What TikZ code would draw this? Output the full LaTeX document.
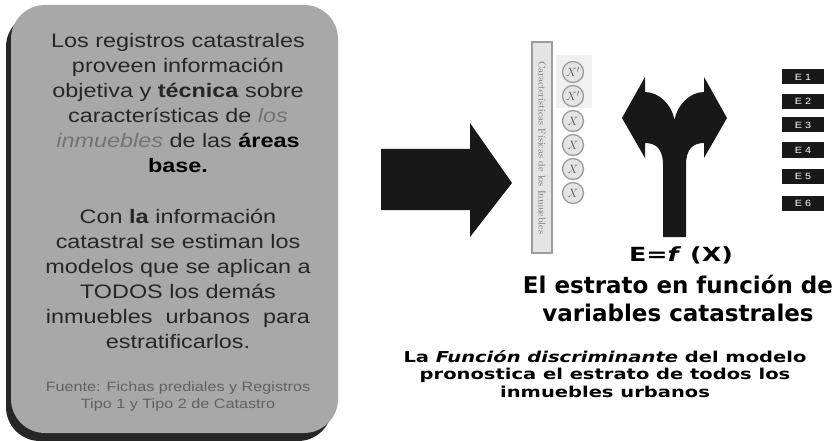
\documentclass[tikz,border=0pt]{standalone}
\usepackage{fontspec}
\usetikzlibrary{positioning}
\newfontfamily\boxfont[FakeStretch=1.2]{Liberation Sans}
\newfontfamily\heavyfont{DejaVu Sans}
\newfontfamily\widefont[FakeStretch=1.3]{DejaVu Sans}
\definecolor{boxgrey}{HTML}{A8A8A8}
\definecolor{shadowgrey}{HTML}{262626}
\definecolor{inkgrey}{HTML}{262626}
\definecolor{panelgrey}{HTML}{E4E4E4}
\definecolor{rulegrey}{HTML}{9C9C9C}
\definecolor{shapeblack}{HTML}{181818}

\begin{document}
\begin{tikzpicture}[x=1pt,y=-1pt,
	varcircle/.style={draw=rulegrey, line width=1.3pt, fill=panelgrey, circle, minimum size=21pt, inner sep=0pt, text=black!65, font=\fontsize{13}{13}\selectfont},
	strbox/.style={fill=shapeblack, minimum width=42pt, minimum height=15pt, inner sep=0pt, text=white, font=\boxfont\fontsize{9}{9}\selectfont}]
			\useasboundingbox (0,0) rectangle (835,441);
			\fill[white] (0,0) rectangle (835,441);
			% grey card with its shadow
			\fill[shadowgrey, rounded corners=34] (6,13) rectangle (332,441);
			\fill[boxgrey, rounded corners=34] (11,5) rectangle (338,433);
			\node[anchor=north, inner sep=0pt, align=center, text=inkgrey, font=\boxfont\fontsize{19.5}{25}\selectfont] (intro) at (178,33)
				{Los registros catastrales\\ proveen información\\ objetiva y \textbf{técnica} sobre\\ características de \textcolor{black!55}{\itshape los}\\ \textcolor{black!55}{\itshape inmuebles} de las \textbf{\color{black}áreas}\\ \textbf{\color{black}base.}};
			\node[below=36pt of intro, inner sep=0pt, align=center, text=inkgrey, font=\boxfont\fontsize{19.5}{25}\selectfont] (method)
				{Con \textbf{la} información\\ catastral se estiman los\\ modelos que se aplican a\\ TODOS los demás\\ inmuebles \ urbanos \ para\\ estratificarlos.};
			\node[below=33pt of method, inner sep=0pt, align=center, text=black!62, font=\boxfont\fontsize{13.5}{17}\selectfont] (source)
				{Fuente: Fichas prediales y Registros\\ Tipo 1 y Tipo 2 de Catastro};
			% big arrow
			\fill[shapeblack] (381,149) -- (470,149) -- (470,123) -- (512,183) -- (470,237) -- (470,210) -- (381,210) -- cycle;
			% panel of variables
			\node[draw=rulegrey, line width=1.5pt, fill=panelgrey, minimum width=20pt, minimum height=211pt, inner sep=0pt] (panel) at (542,147.5) {};
			\node[rotate=-90, text=black!55, font=\fontsize{10}{10}\selectfont] (panelname) at (panel.center) {Características Físicas de los Inmuebles};
			\fill[black!6] (556,55) rectangle (592,108);
			\foreach \y/\t [count=\i] in {72/{X'},96/{X'},121/X,145/X,169/X,193/X}
				\node[varcircle] (x\i) at (573,\y) {$\t$};
			% fork arrow
			\fill[shapeblack] (663,237) -- (663,165) .. controls (663,150) and (657,143) .. (645,143) -- (645,158) -- (622,118) -- (645,77) -- (645,92)
				.. controls (659,92) and (672,105) .. (674.5,120) .. controls (677,105) and (690,92) .. (704,92) -- (704,77) -- (727,118) -- (704,158) -- (704,143)
				.. controls (692,143) and (686,150) .. (686,165) -- (686,237) -- cycle;
			% strata
			\foreach \y [count=\i] in {77,101.5,125,150,176.5,203.5}
				\node[strbox] (s\i) at (803,\y) {E \i};
			\node[font=\widefont\bfseries\fontsize{19.5}{20}\selectfont] (formula) at (681,255) {E=\textit{f} (X)};
			\node[align=center, font=\heavyfont\bfseries\fontsize{23}{28}\selectfont] (title) at (678,298) {El estrato en función de\\ variables catastrales};
			\node[align=center, font=\widefont\bfseries\fontsize{15}{17.5}\selectfont] (note) at (605,374) {La \textit{Función discriminante} del modelo\\ pronostica el estrato de todos los\\ inmuebles urbanos};
		\end{tikzpicture}
\end{document}
